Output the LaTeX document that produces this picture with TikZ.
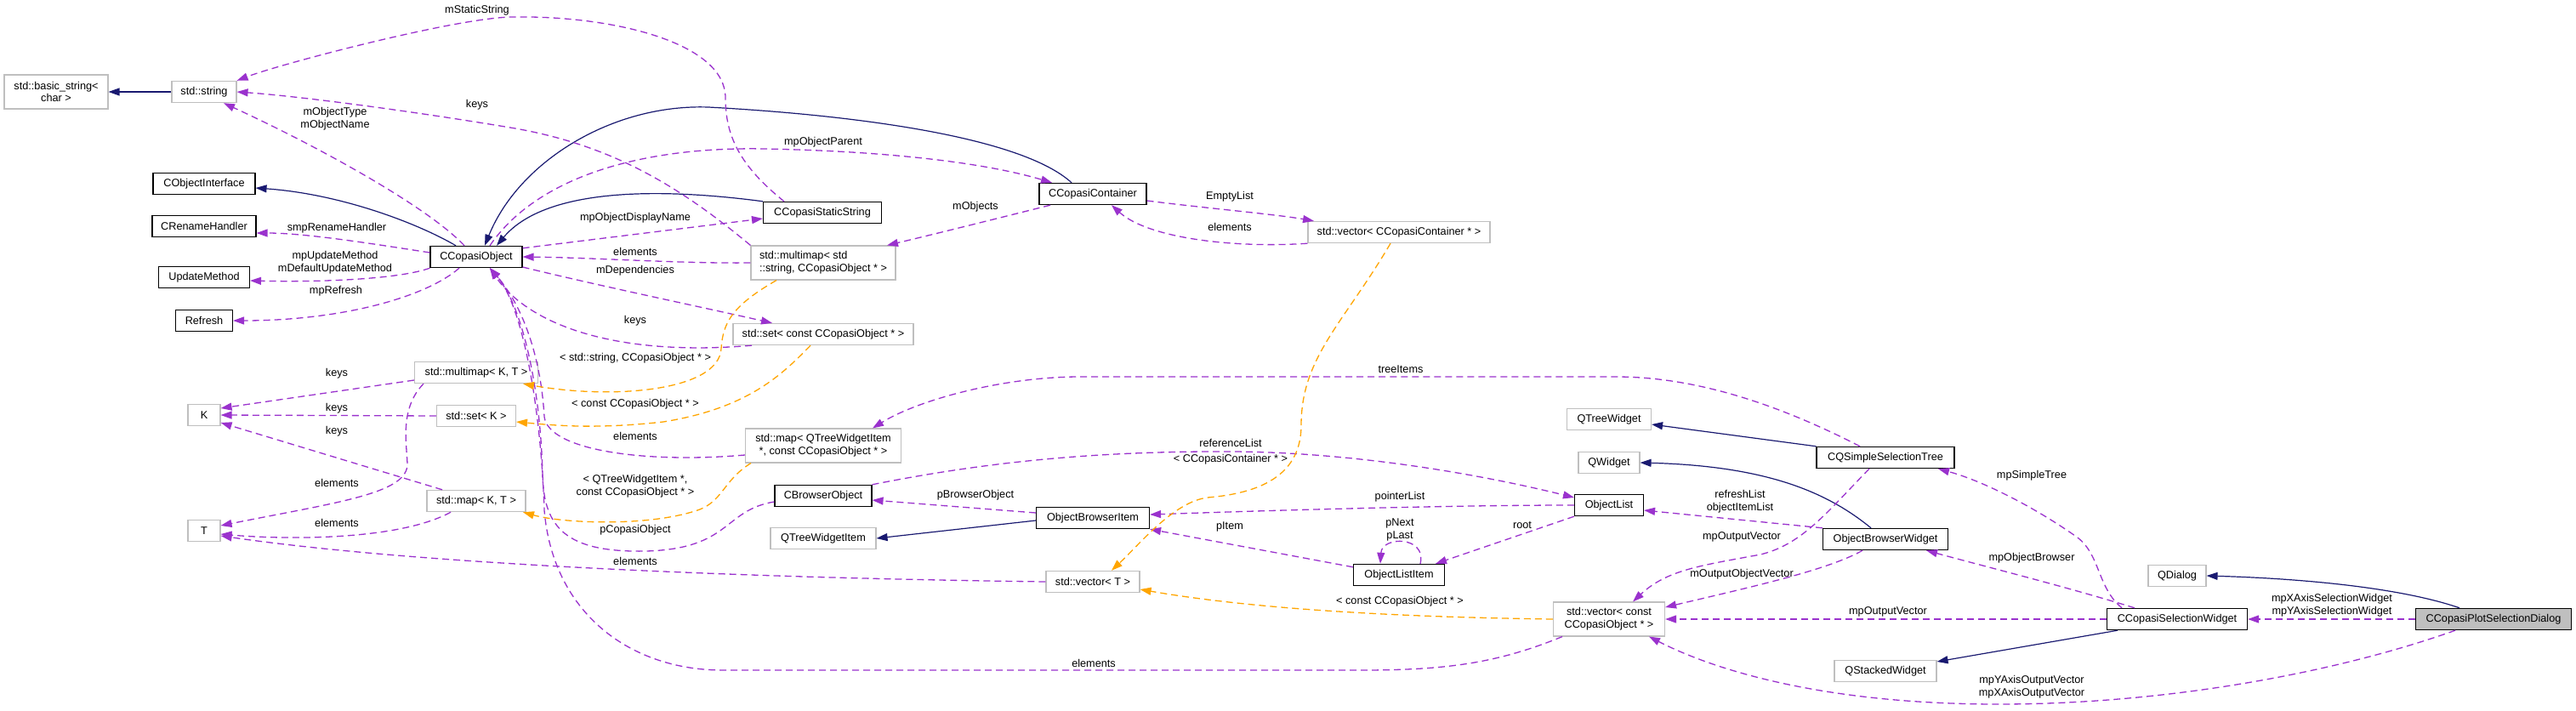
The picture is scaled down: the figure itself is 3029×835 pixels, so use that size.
\documentclass[tikz,border=0pt]{standalone}
\usepackage{fontspec}
\setmainfont{Liberation Sans}
\usetikzlibrary{arrows.meta}
\definecolor{dxpurple}{HTML}{9A32CD}
\definecolor{dxorange}{HTML}{FFA500}
\definecolor{dxblue}{HTML}{191970}
\definecolor{dxgray}{HTML}{BFBFBF}
\begin{document}
\begin{tikzpicture}[x=1pt,y=-1pt,font=\fontsize{12.7}{14.7}\selectfont,
  box/.style={draw,rectangle,fill=white,minimum height=25.3pt,inner xsep=2pt,inner ysep=2pt,line width=1.1pt,align=center},
  doc/.style={box,draw=black},
  ext/.style={box,draw=dxgray},
  usage/.style={draw=dxpurple,line width=1.3pt,dash pattern=on 8pt off 5pt,-{Triangle[length=13pt,width=9pt]}},
  tmpl/.style={usage,draw=dxorange},
  inh/.style={draw=dxblue,line width=1.2pt,-{Triangle[length=13pt,width=9pt]}},
  lbl/.style={inner sep=0pt,align=center}]
\useasboundingbox (0,0) rectangle (3029,835);
% nodes
\node[ext,minimum width=122pt,minimum height=40pt] (basic) at (66,108) {std::basic\_string<\\char >};
\node[ext,minimum width=76pt] (stdstr) at (240,108) {std::string};
\node[doc,minimum width=120pt] (cobjif) at (240,216) {CObjectInterface};
\node[doc,minimum width=122pt] (crename) at (240,266) {CRenameHandler};
\node[doc,minimum width=107pt] (updm) at (240,326) {UpdateMethod};
\node[doc,minimum width=67pt] (refresh) at (240,377) {Refresh};
\node[ext,minimum width=38pt] (K) at (240,488) {K};
\node[ext,minimum width=38pt] (T) at (240,624) {T};
\node[doc,minimum width=108pt] (cobj) at (560,302) {CCopasiObject};
\node[ext,minimum width=145pt] (mmapKT) at (560,438) {std::multimap< K, T >};
\node[ext,minimum width=93pt] (setK) at (560,489) {std::set< K >};
\node[ext,minimum width=116pt] (mapKT) at (560,589) {std::map< K, T >};
\node[doc,minimum width=139pt] (cstatic) at (967,250) {CCopasiStaticString};
\node[ext,minimum width=170pt,minimum height=40pt,align=left] (mmapstr) at (968,309) {std::multimap< std\\::string, CCopasiObject * >};
\node[ext,minimum width=212pt] (setconst) at (968,393) {std::set< const CCopasiObject * >};
\node[ext,minimum width=183pt,minimum height=40pt] (mapqt) at (968,524) {std::map< QTreeWidgetItem\\*, const CCopasiObject * >};
\node[doc,minimum width=114pt] (cbrowser) at (968,583) {CBrowserObject};
\node[ext,minimum width=124pt] (qtwi) at (968,633) {QTreeWidgetItem};
\node[doc,minimum width=126pt] (ccont) at (1285,228) {CCopasiContainer};
\node[doc,minimum width=133pt] (obitem) at (1285,609) {ObjectBrowserItem};
\node[ext,minimum width=110pt] (vecT) at (1285,684) {std::vector< T >};
\node[ext,minimum width=214pt] (veccont) at (1645,273) {std::vector< CCopasiContainer * >};
\node[doc,minimum width=107pt] (olitem) at (1645,676) {ObjectListItem};
\node[ext,minimum width=99pt] (qtw) at (1892,493) {QTreeWidget};
\node[ext,minimum width=72pt] (qw) at (1892,544) {QWidget};
\node[doc,minimum width=81pt] (olist) at (1892,594) {ObjectList};
\node[ext,minimum width=131pt,minimum height=40pt] (vecconst) at (1892,728) {std::vector< const\\CCopasiObject * >};
\node[doc,minimum width=162pt] (cqsst) at (2217,538) {CQSimpleSelectionTree};
\node[doc,minimum width=147pt] (obw) at (2217,634) {ObjectBrowserWidget};
\node[ext,minimum width=120pt] (qstack) at (2217,789) {QStackedWidget};
\node[ext,minimum width=68pt] (qdialog) at (2560,677) {QDialog};
\node[doc,minimum width=165pt] (csw) at (2560,728) {CCopasiSelectionWidget};
\node[doc,fill=dxgray,minimum width=183pt] (dialog) at (2932,728) {CCopasiPlotSelectionDialog};
% inheritance
\draw[inh] (stdstr.west) -- (basic.east);
\draw[inh] ([xshift=-24pt]cobj.north) .. controls (490,262) and (400,228) .. ([yshift=-5pt]cobjif.east);
\draw[inh] (cstatic.north west) .. controls (770,220) and (640,222) .. ([xshift=24pt]cobj.north);
\draw[inh] ([xshift=-25pt]ccont.north) .. controls (1200,160) and (1000,135) .. (833,126) .. controls (720,122) and (610,190) .. ([xshift=10pt]cobj.north);
\draw[inh] ([yshift=-3pt]obitem.west) -- (qtwi.east);
\draw[inh] (cqsst.north west) -- ([yshift=-6pt]qtw.east);
\draw[inh] ([xshift=-17pt]obw.north) .. controls (2150,580) and (2080,548) .. (qw.east);
\draw[inh] ([xshift=-70pt]csw.south) -- ([yshift=11pt]qstack.east);
\draw[inh] ([xshift=-40pt]dialog.north) .. controls (2820,690) and (2700,680) .. (qdialog.east);
% usage
\draw[usage] ([yshift=5pt]cobj.west) .. controls (440,287) and (360,274) .. ([yshift=-8pt]crename.east);
\draw[usage] (cobj.south west) .. controls (470,328) and (380,332) .. ([yshift=-4pt]updm.east);
\draw[usage] ([xshift=-20pt]cobj.south) .. controls (500,350) and (400,377) .. (refresh.east);
\draw[usage] ([xshift=-14pt]cobj.north) .. controls (505,245) and (380,175) .. ([xshift=23pt]stdstr.south);
\draw[usage] ([xshift=-45pt]cstatic.north) .. controls (870,195) and (853,160) .. (853,115) .. controls (853,50) and (720,18) .. (603,20) .. controls (540,20) and (330,75) .. (stdstr.north east);
\draw[usage] (mmapstr.north west) .. controls (800,220) and (720,170) .. (600,150) .. controls (480,130) and (350,113) .. (stdstr.east);
\draw[usage] ([xshift=16pt]cobj.north) .. controls (630,210) and (750,172) .. (900,175) .. controls (1050,178) and (1160,192) .. ([xshift=-48pt]ccont.north);
\draw[usage] ([yshift=-3pt]cobj.north east) -- ([yshift=-7pt]cstatic.west);
\draw[usage] (mmapstr.west) .. controls (800,310) and (700,303) .. (cobj.east);
\draw[usage] ([yshift=-12pt]cobj.east) .. controls (700,335) and (820,360) .. ([xshift=-60pt]setconst.north);
\draw[usage] ([xshift=-84pt]setconst.south) .. controls (720,420) and (620,380) .. ([xshift=16pt]cobj.south);
\draw[usage] ([xshift=-50pt]ccont.south) .. controls (1180,255) and (1100,275) .. ([xshift=75pt]mmapstr.north);
\draw[usage] ([yshift=-8pt]ccont.east) .. controls (1420,245) and (1500,252) .. ([xshift=-100pt]veccont.north);
\draw[usage] (veccont.south west) .. controls (1450,292) and (1350,280) .. ([xshift=22pt]ccont.south);
\draw[usage] ([yshift=-9pt]mmapKT.west) -- ([yshift=8pt]K.east);
\draw[usage] (setK.west) -- (K.east);
\draw[usage] ([xshift=-40pt]mapKT.north) -- ([yshift=-9pt]K.east);
\draw[usage] ([xshift=-62pt]mmapKT.south) .. controls (470,480) and (478,520) .. (479,545) .. controls (480,580) and (400,590) .. ([yshift=6pt]T.east);
\draw[usage] ([xshift=-30pt]mapKT.south) .. controls (470,635) and (340,635) .. ([yshift=-4pt]T.east);
\draw[usage] (vecT.west) .. controls (900,680) and (500,665) .. ([yshift=-6pt]T.east);
\draw[usage] ([yshift=-11pt]mapqt.west) .. controls (760,545) and (645,530) .. (640,490) .. controls (636,420) and (615,360) .. ([xshift=16pt]cobj.south);
\draw[usage] ([yshift=-7pt]cbrowser.west) .. controls (850,600) and (860,645) .. (760,648) .. controls (665,650) and (640,620) .. (638,560) .. controls (636,460) and (615,360) .. ([xshift=16pt]cobj.south);
\draw[usage] ([xshift=-55pt]vecconst.south) .. controls (1760,780) and (1700,788) .. (1600,788) -- (850,788) .. controls (740,788) and (650,720) .. (640,600) .. controls (636,480) and (615,360) .. ([xshift=16pt]cobj.south);
\draw[usage] ([yshift=6pt]obitem.west) -- ([yshift=-5pt]cbrowser.east);
\draw[usage] ([xshift=-30pt]cqsst.north) .. controls (2100,480) and (2000,443) .. (1900,443) -- (1270,443) .. controls (1180,443) and (1080,470) .. ([xshift=58pt]mapqt.north);
\draw[usage] (cbrowser.north east) .. controls (1150,545) and (1280,530) .. (1450,531) .. controls (1600,532) and (1750,560) .. ([yshift=9pt]olist.west);
\draw[usage] (olist.west) .. controls (1700,594) and (1500,600) .. ([yshift=4pt]obitem.east);
\draw[usage] ([yshift=-4pt]olitem.north west) -- (obitem.south east);
\draw[usage] ([xshift=25pt]olitem.north) .. controls (1678,630) and (1625,630) .. ([xshift=-22pt]olitem.north);
\draw[usage] (olist.south west) -- ([xshift=43pt]olitem.north);
\draw[usage] (obw.north west) -- ([yshift=-6pt]olist.east);
\draw[usage] ([xshift=-19pt]cqsst.south) .. controls (2150,600) and (2120,640) .. (2070,652) .. controls (2000,665) and (1960,670) .. ([xshift=28pt]vecconst.north);
\draw[usage] ([xshift=-27pt]obw.south) .. controls (2150,670) and (2060,690) .. ([yshift=14pt]vecconst.east);
\draw[usage] (csw.west) -- (vecconst.east);
\draw[usage] ([xshift=-65pt]csw.north) .. controls (2465,690) and (2470,650) .. (2440,630) .. controls (2390,595) and (2330,565) .. ([xshift=62pt]cqsst.south);
\draw[usage] ([xshift=-50pt]csw.north) .. controls (2430,690) and (2330,665) .. ([xshift=48pt]obw.south);
\draw[usage] (dialog.west) -- (csw.east);
\draw[usage] ([xshift=-45pt]dialog.south) .. controls (2750,790) and (2550,828) .. (2350,828) .. controls (2150,828) and (2020,790) .. ([xshift=47pt]vecconst.south);
% template instances
\draw[tmpl] ([xshift=-10pt]veccont.south) .. controls (1580,380) and (1530,420) .. (1530,500) .. controls (1530,560) and (1480,580) .. (1420,585) .. controls (1380,590) and (1340,640) .. ([xshift=22pt]vecT.north);
\draw[tmpl] ([xshift=-55pt]mmapstr.south) .. controls (860,360) and (850,380) .. (848,410) .. controls (845,460) and (720,470) .. ([xshift=55pt]mmapKT.south);
\draw[tmpl] ([xshift=-15pt]setconst.south) .. controls (920,440) and (880,480) .. (780,496) .. controls (700,505) and (650,500) .. ([yshift=-7pt]setK.east);
\draw[tmpl] ([xshift=-85pt]mapqt.south) .. controls (850,565) and (850,590) .. (820,600) .. controls (760,620) and (660,615) .. ([xshift=55pt]mapKT.south);
\draw[tmpl] (vecconst.west) .. controls (1600,725) and (1450,712) .. ([yshift=-9pt]vecT.east);
% labels
\node[lbl] (l1) at (561,12) {mStaticString};
\node[lbl] (l2) at (561,123) {keys};
\node[lbl] (l3) at (394,140) {mObjectType\\mObjectName};
\node[lbl] (l4) at (396,268) {smpRenameHandler};
\node[lbl] (l5) at (394,309) {mpUpdateMethod\\mDefaultUpdateMethod};
\node[lbl] (l6) at (395,342) {mpRefresh};
\node[lbl] (l7) at (968,167) {mpObjectParent};
\node[lbl] (l8) at (747,256) {mpObjectDisplayName};
\node[lbl] (l9) at (747,296) {elements};
\node[lbl] (l10) at (747,318) {mDependencies};
\node[lbl] (l11) at (747,377) {keys};
\node[lbl] (l12) at (1147,243) {mObjects};
\node[lbl] (l13) at (1446,231) {EmptyList};
\node[lbl] (l14) at (1446,267) {elements};
\node[lbl] (l15) at (747,421) {< std::string, CCopasiObject * >};
\node[lbl] (l16) at (747,475) {< const CCopasiObject * >};
\node[lbl] (l17) at (747,513) {elements};
\node[lbl] (l18) at (747,572) {< QTreeWidgetItem *,\\const CCopasiObject * >};
\node[lbl] (l19) at (747,623) {pCopasiObject};
\node[lbl] (l20) at (747,660) {elements};
\node[lbl] (l21) at (396,439) {keys};
\node[lbl] (l22) at (396,480) {keys};
\node[lbl] (l23) at (396,507) {keys};
\node[lbl] (l24) at (396,568) {elements};
\node[lbl] (l25) at (396,615) {elements};
\node[lbl] (l26) at (1647,434) {treeItems};
\node[lbl] (l27) at (1447,521) {referenceList};
\node[lbl] (l28) at (1447,540) {< CCopasiContainer * >};
\node[lbl] (l29) at (1147,582) {pBrowserObject};
\node[lbl] (l30) at (1646,584) {pointerList};
\node[lbl] (l31) at (1446,619) {pItem};
\node[lbl] (l32) at (1646,623) {pNext\\pLast};
\node[lbl] (l33) at (1790,617) {root};
\node[lbl] (l34) at (1646,707) {< const CCopasiObject * >};
\node[lbl] (l35) at (1286,780) {elements};
\node[lbl] (l36) at (2046,590) {refreshList\\objectItemList};
\node[lbl] (l37) at (2048,631) {mpOutputVector};
\node[lbl] (l38) at (2048,675) {mOutputObjectVector};
\node[lbl] (l39) at (2220,719) {mpOutputVector};
\node[lbl] (l40) at (2389,559) {mpSimpleTree};
\node[lbl] (l41) at (2389,656) {mpObjectBrowser};
\node[lbl] (l42) at (2742,712) {mpXAxisSelectionWidget\\mpYAxisSelectionWidget};
\node[lbl] (l43) at (2389,808) {mpYAxisOutputVector\\mpXAxisOutputVector};
\end{tikzpicture}
\end{document}
